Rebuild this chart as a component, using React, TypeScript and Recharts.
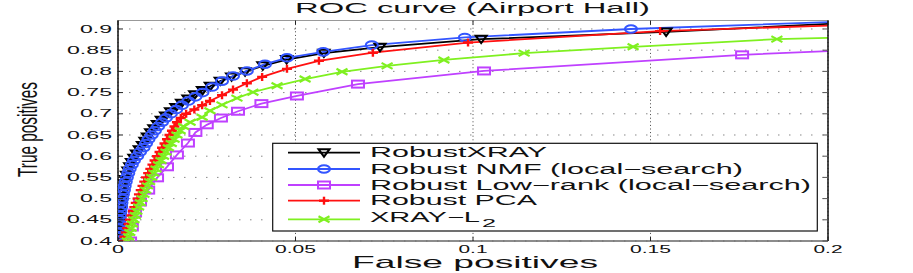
import React from "react";
import { CartesianGrid, Line, LineChart, XAxis, YAxis } from "recharts";

type Pt = { x: number; y: number };

// values (false positive rate, true positive rate)
const xrayRobust: Pt[] = [
  { x: 0, y: 0.4 }, { x: 0.0001, y: 0.415 }, { x: 0.0002, y: 0.425 }, { x: 0.0003, y: 0.435 },
  { x: 0.0004, y: 0.445 }, { x: 0.0005, y: 0.455 }, { x: 0.0006, y: 0.465 }, { x: 0.0007, y: 0.475 },
  { x: 0.0008, y: 0.485 }, { x: 0.001, y: 0.495 }, { x: 0.0012, y: 0.505 }, { x: 0.0014, y: 0.515 },
  { x: 0.0016, y: 0.525 }, { x: 0.0019, y: 0.535 }, { x: 0.0021, y: 0.545 }, { x: 0.0024, y: 0.555 },
  { x: 0.0028, y: 0.565 }, { x: 0.0033, y: 0.575 }, { x: 0.0038, y: 0.585 }, { x: 0.0045, y: 0.595 },
  { x: 0.0052, y: 0.605 }, { x: 0.006, y: 0.615 }, { x: 0.0069, y: 0.625 }, { x: 0.0076, y: 0.635 },
  { x: 0.0083, y: 0.645 }, { x: 0.0092, y: 0.655 }, { x: 0.0101, y: 0.665 }, { x: 0.0111, y: 0.675 },
  { x: 0.0122, y: 0.685 }, { x: 0.0134, y: 0.695 }, { x: 0.0148, y: 0.705 }, { x: 0.0163, y: 0.715 },
  { x: 0.0179, y: 0.725 }, { x: 0.0197, y: 0.735 }, { x: 0.0216, y: 0.745 }, { x: 0.0238, y: 0.755 },
  { x: 0.026, y: 0.765 }, { x: 0.0288, y: 0.777 }, { x: 0.032, y: 0.787 }, { x: 0.0358, y: 0.799 },
  { x: 0.0408, y: 0.813 }, { x: 0.0475, y: 0.828 }, { x: 0.058, y: 0.843 }, { x: 0.0738, y: 0.857 },
  { x: 0.1023, y: 0.876 }, { x: 0.1544, y: 0.893 }, { x: 0.2, y: 0.912 },
];

const nmfRobust: Pt[] = [
  { x: 0, y: 0.4 }, { x: 0.0001, y: 0.41 }, { x: 0.0002, y: 0.42 }, { x: 0.0003, y: 0.43 },
  { x: 0.0004, y: 0.44 }, { x: 0.0005, y: 0.45 }, { x: 0.0006, y: 0.46 }, { x: 0.0007, y: 0.47 },
  { x: 0.0009, y: 0.48 }, { x: 0.001, y: 0.49 }, { x: 0.0012, y: 0.5 }, { x: 0.0014, y: 0.51 },
  { x: 0.0017, y: 0.52 }, { x: 0.0019, y: 0.53 }, { x: 0.0022, y: 0.54 }, { x: 0.0025, y: 0.55 },
  { x: 0.0029, y: 0.56 }, { x: 0.0033, y: 0.57 }, { x: 0.0039, y: 0.58 }, { x: 0.0045, y: 0.59 },
  { x: 0.0054, y: 0.6 }, { x: 0.0062, y: 0.61 }, { x: 0.0072, y: 0.62 }, { x: 0.0079, y: 0.63 },
  { x: 0.0086, y: 0.64 }, { x: 0.0095, y: 0.65 }, { x: 0.0104, y: 0.66 }, { x: 0.0113, y: 0.67 },
  { x: 0.0124, y: 0.68 }, { x: 0.0135, y: 0.69 }, { x: 0.0149, y: 0.7 }, { x: 0.0164, y: 0.71 },
  { x: 0.018, y: 0.72 }, { x: 0.0198, y: 0.73 }, { x: 0.0218, y: 0.74 }, { x: 0.0238, y: 0.75 },
  { x: 0.0265, y: 0.763 }, { x: 0.0293, y: 0.777 }, { x: 0.0324, y: 0.789 }, { x: 0.0363, y: 0.801 },
  { x: 0.0414, y: 0.817 }, { x: 0.0476, y: 0.832 }, { x: 0.0578, y: 0.846 }, { x: 0.0715, y: 0.862 },
  { x: 0.0977, y: 0.88 }, { x: 0.1445, y: 0.9 }, { x: 0.2, y: 0.916 },
];

const lowRankRobust: Pt[] = [
  { x: 0.0034, y: 0.4 }, { x: 0.0039, y: 0.433 }, { x: 0.0048, y: 0.466 }, { x: 0.0062, y: 0.492 },
  { x: 0.0085, y: 0.52 }, { x: 0.011, y: 0.549 }, { x: 0.0138, y: 0.575 }, { x: 0.0166, y: 0.603 },
  { x: 0.0197, y: 0.631 }, { x: 0.0218, y: 0.656 }, { x: 0.025, y: 0.674 }, { x: 0.029, y: 0.69 },
  { x: 0.0338, y: 0.706 }, { x: 0.0404, y: 0.724 }, { x: 0.0504, y: 0.742 }, { x: 0.0676, y: 0.77 },
  { x: 0.1031, y: 0.801 }, { x: 0.1758, y: 0.839 }, { x: 0.2, y: 0.848 },
];

const pcaRobust: Pt[] = [
  { x: 0.0015, y: 0.4 }, { x: 0.0018, y: 0.41 }, { x: 0.0022, y: 0.42 }, { x: 0.0026, y: 0.43 },
  { x: 0.003, y: 0.44 }, { x: 0.0034, y: 0.45 }, { x: 0.0038, y: 0.46 }, { x: 0.0042, y: 0.47 },
  { x: 0.0046, y: 0.48 }, { x: 0.005, y: 0.49 }, { x: 0.0055, y: 0.5 }, { x: 0.0059, y: 0.51 },
  { x: 0.0064, y: 0.52 }, { x: 0.0069, y: 0.53 }, { x: 0.0074, y: 0.54 }, { x: 0.0079, y: 0.55 },
  { x: 0.0085, y: 0.56 }, { x: 0.0091, y: 0.57 }, { x: 0.0097, y: 0.58 }, { x: 0.0103, y: 0.59 },
  { x: 0.011, y: 0.6 }, { x: 0.0117, y: 0.61 }, { x: 0.0124, y: 0.62 }, { x: 0.0131, y: 0.63 },
  { x: 0.0138, y: 0.64 }, { x: 0.0145, y: 0.65 }, { x: 0.0152, y: 0.66 }, { x: 0.0159, y: 0.67 },
  { x: 0.0166, y: 0.68 }, { x: 0.0177, y: 0.69 }, { x: 0.0192, y: 0.7 }, { x: 0.0215, y: 0.71 },
  { x: 0.0237, y: 0.72 }, { x: 0.0259, y: 0.73 }, { x: 0.0293, y: 0.744 }, { x: 0.0324, y: 0.757 },
  { x: 0.0363, y: 0.772 }, { x: 0.0406, y: 0.787 }, { x: 0.0476, y: 0.806 }, { x: 0.0566, y: 0.825 },
  { x: 0.0718, y: 0.844 }, { x: 0.0986, y: 0.868 }, { x: 0.1527, y: 0.895 }, { x: 0.2, y: 0.908 },
];

const xrayL2: Pt[] = [
  { x: 0.0026, y: 0.4 }, { x: 0.003, y: 0.41 }, { x: 0.0033, y: 0.42 }, { x: 0.0037, y: 0.43 },
  { x: 0.0041, y: 0.44 }, { x: 0.0045, y: 0.45 }, { x: 0.0049, y: 0.46 }, { x: 0.0053, y: 0.47 },
  { x: 0.0058, y: 0.48 }, { x: 0.0063, y: 0.49 }, { x: 0.0068, y: 0.5 }, { x: 0.0073, y: 0.51 },
  { x: 0.0078, y: 0.52 }, { x: 0.0083, y: 0.53 }, { x: 0.0089, y: 0.54 }, { x: 0.0095, y: 0.55 },
  { x: 0.0101, y: 0.56 }, { x: 0.0107, y: 0.57 }, { x: 0.0114, y: 0.58 }, { x: 0.0121, y: 0.59 },
  { x: 0.0128, y: 0.6 }, { x: 0.0135, y: 0.61 }, { x: 0.0142, y: 0.62 }, { x: 0.015, y: 0.63 },
  { x: 0.0158, y: 0.64 }, { x: 0.0166, y: 0.65 }, { x: 0.0175, y: 0.66 }, { x: 0.0185, y: 0.67 },
  { x: 0.0203, y: 0.68 }, { x: 0.0237, y: 0.692 }, { x: 0.0259, y: 0.707 }, { x: 0.0293, y: 0.721 },
  { x: 0.0335, y: 0.737 }, { x: 0.038, y: 0.751 }, { x: 0.0448, y: 0.766 }, { x: 0.0527, y: 0.782 },
  { x: 0.0631, y: 0.799 }, { x: 0.0758, y: 0.813 }, { x: 0.0918, y: 0.827 }, { x: 0.1144, y: 0.843 },
  { x: 0.1451, y: 0.858 }, { x: 0.1856, y: 0.876 }, { x: 0.2, y: 0.879 },
];

const X_TICKS = [0, 0.05, 0.1, 0.15, 0.2];
const Y_TICKS = [0.4, 0.45, 0.5, 0.55, 0.6, 0.65, 0.7, 0.75, 0.8, 0.85, 0.9];

const TITLE = "ROC curve (Airport Hall)";
const X_LABEL = "False positives";
const Y_LABEL = "True positives";

type Marker = "triangle" | "circle" | "square" | "plus" | "cross";

const SERIES: { name: string; data: Pt[]; color: string; marker: Marker; textLen: number }[] = [
  { name: "RobustXRAY", data: xrayRobust, color: "#000000", marker: "triangle", textLen: 177 },
  { name: "Robust NMF (local\u2212search)", data: nmfRobust, color: "#3355ff", marker: "circle", textLen: 373 },
  { name: "Robust Low\u2212rank (local\u2212search)", data: lowRankRobust, color: "#bf40ff", marker: "square", textLen: 441 },
  { name: "Robust PCA", data: pcaRobust, color: "#ff1010", marker: "plus", textLen: 167 },
  { name: "XRAY\u2212L", data: xrayL2, color: "#7ff020", marker: "cross", textLen: 110 },
];

const FONT = "'Liberation Sans', Arial, Helvetica, sans-serif";
const W = 913;
const H = 273;
const PLOT_LEFT = 118;
const PLOT_RIGHT = 828;
const PLOT_TOP = 20.5;
const PLOT_BOTTOM = 241;

function MarkerShape({ kind, cx, cy, color }: { kind: Marker; cx: number; cy: number; color: string }) {
  switch (kind) {
    case "triangle":
      return (
        <polygon
          points={`${cx - 5.5},${cy - 3.5} ${cx + 5.5},${cy - 3.5} ${cx},${cy + 4}`}
          fill="none" stroke={color} strokeWidth={2}
        />
      );
    case "circle":
      return <ellipse cx={cx} cy={cy} rx={6} ry={3.8} fill="none" stroke={color} strokeWidth={2} />;
    case "square":
      return <rect x={cx - 6} y={cy - 3.5} width={12} height={7} fill="none" stroke={color} strokeWidth={2} />;
    case "plus":
      return (
        <g stroke={color} strokeWidth={2.4}>
          <line x1={cx - 5} x2={cx + 5} y1={cy} y2={cy} />
          <line x1={cx} x2={cx} y1={cy - 4} y2={cy + 4} />
        </g>
      );
    default:
      return (
        <g stroke={color} strokeWidth={2.2}>
          <line x1={cx - 5.5} x2={cx + 5.5} y1={cy - 3} y2={cy + 3} />
          <line x1={cx - 5.5} x2={cx + 5.5} y1={cy + 3} y2={cy - 3} />
        </g>
      );
  }
}

function makeDot(kind: Marker, color: string, count: number) {
  return (props: any) => {
    const { cx, cy, index } = props;
    // the last point only carries the line out to the frame
    if (index === count - 1 || cx == null || cy == null) return <g key={`d-${index}`} />;
    return (
      <g key={`d-${index}`}>
        <MarkerShape kind={kind} cx={cx} cy={cy} color={color} />
      </g>
    );
  };
}

function digitWidth(label: string, digit: number, dot: number) {
  let w = 0;
  for (const ch of label) w += ch === "." ? dot : digit;
  return w;
}

const YTickLeft = (props: any) => {
  const { y, payload } = props;
  const label = String(payload.value);
  return (
    <g>
      <text
        x={112} y={y + 3.6} textAnchor="end" fontSize={10} fontFamily={FONT} fill="#111"
        textLength={digitWidth(label, 13, 6)} lengthAdjust="spacingAndGlyphs"
      >
        {label}
      </text>
      <line x1={PLOT_LEFT} x2={PLOT_LEFT + 5} y1={y} y2={y} stroke="#222" />
    </g>
  );
};

const YTickRight = (props: any) => {
  const { y } = props;
  return <line x1={PLOT_RIGHT} x2={PLOT_RIGHT - 5} y1={y} y2={y} stroke="#555" />;
};

const XTickBottom = (props: any) => {
  const { x, payload } = props;
  const label = String(payload.value);
  return (
    <g>
      <text
        x={x} y={253} textAnchor="middle" fontSize={10.5} fontFamily={FONT} fill="#111"
        textLength={digitWidth(label, 12, 5)} lengthAdjust="spacingAndGlyphs"
      >
        {label}
      </text>
      <line x1={x} x2={x} y1={PLOT_BOTTOM} y2={PLOT_BOTTOM - 4} stroke="#222" />
    </g>
  );
};

const XTickTop = (props: any) => {
  const { x } = props;
  return <line x1={x} x2={x} y1={PLOT_TOP} y2={PLOT_TOP + 4} stroke="#222" />;
};

const LEGEND_LEFT = 272.7;
const LEGEND_TOP = 143.3;
const LEGEND_ROWS = [152.7, 169, 185, 200.7, 219.3];
const LEGEND_BASELINES = [157.3, 173.6, 189.6, 205.3, 221.7];

function Overlay() {
  return (
    <svg
      width={W} height={H}
      style={{ position: "absolute", left: 0, top: 0, pointerEvents: "none" }}
    >
      <text
        x={472.5} y={12.7} textAnchor="middle" fontSize={15.5} fontFamily={FONT} fill="#111"
        textLength={355} lengthAdjust="spacingAndGlyphs"
      >
        {TITLE}
      </text>
      <text
        x={475} y={268} textAnchor="middle" fontSize={17} fontFamily={FONT} fill="#111"
        textLength={246} lengthAdjust="spacingAndGlyphs"
      >
        {X_LABEL}
      </text>
      <text
        x={37} y={129.5} textAnchor="middle" fontSize={28} fontFamily={FONT} fill="#111"
        transform="rotate(-90 37 129.5)" textLength={95} lengthAdjust="spacingAndGlyphs"
      >
        {Y_LABEL}
      </text>

      <rect
        x={LEGEND_LEFT} y={LEGEND_TOP} width={817.3 - LEGEND_LEFT} height={231 - LEGEND_TOP}
        fill="#fff" stroke="#111" strokeWidth={1.2}
      />
      {SERIES.map((s, i) => (
        <g key={s.name}>
          <line x1={288} x2={360} y1={LEGEND_ROWS[i]} y2={LEGEND_ROWS[i]} stroke={s.color} strokeWidth={1.8} />
          <MarkerShape kind={s.marker} cx={324} cy={LEGEND_ROWS[i]} color={s.color} />
          <text
            x={370} y={LEGEND_BASELINES[i]} fontSize={14} fontFamily={FONT} fill="#111"
            textLength={s.textLen} lengthAdjust="spacingAndGlyphs"
          >
            {s.name}
          </text>
        </g>
      ))}
      <text
        x={482} y={226.7} fontSize={10} fontFamily={FONT} fill="#111"
        textLength={14} lengthAdjust="spacingAndGlyphs"
      >
        2
      </text>
    </svg>
  );
}

export default function App() {
  return (
    <div style={{ position: "absolute", left: 0, top: 0, width: W, height: H, background: "#fff" }}>
      <LineChart width={W} height={H} margin={{ top: 0, right: 0, bottom: 0, left: 0 }}>
        <CartesianGrid vertical={false} stroke="#888" strokeDasharray="1.5 9.5" />
        <CartesianGrid horizontal={false} stroke="#444" strokeDasharray="1 2.6" />
        <XAxis
          dataKey="x" type="number" domain={[0, 0.2]} ticks={X_TICKS} allowDataOverflow
          height={H - PLOT_BOTTOM} tick={<XTickBottom />} tickLine={false}
          axisLine={{ stroke: "#666", strokeWidth: 1.5 }} interval={0}
        />
        <XAxis
          xAxisId="top" orientation="top" dataKey="x" type="number" domain={[0, 0.2]} ticks={X_TICKS}
          allowDataOverflow height={PLOT_TOP} tick={<XTickTop />} tickLine={false}
          axisLine={{ stroke: "#999", strokeWidth: 1.2 }} interval={0}
        />
        <YAxis
          type="number" domain={[0.4, 0.92]} ticks={Y_TICKS} allowDataOverflow width={PLOT_LEFT}
          tick={<YTickLeft />} tickLine={false} axisLine={{ stroke: "#111", strokeWidth: 1.5 }} interval={0}
        />
        <YAxis
          yAxisId="right" orientation="right" type="number" domain={[0.4, 0.92]} ticks={Y_TICKS}
          allowDataOverflow width={W - PLOT_RIGHT} tick={<YTickRight />} tickLine={false}
          axisLine={{ stroke: "#111", strokeWidth: 1.5 }} interval={0}
        />
        {SERIES.map((s) => (
          <Line
            key={s.name}
            data={s.data}
            dataKey="y"
            type="linear"
            stroke={s.color}
            strokeWidth={1.8}
            dot={makeDot(s.marker, s.color, s.data.length)}
            activeDot={false}
            isAnimationActive={false}
          />
        ))}
      </LineChart>
      <Overlay />
    </div>
  );
}
